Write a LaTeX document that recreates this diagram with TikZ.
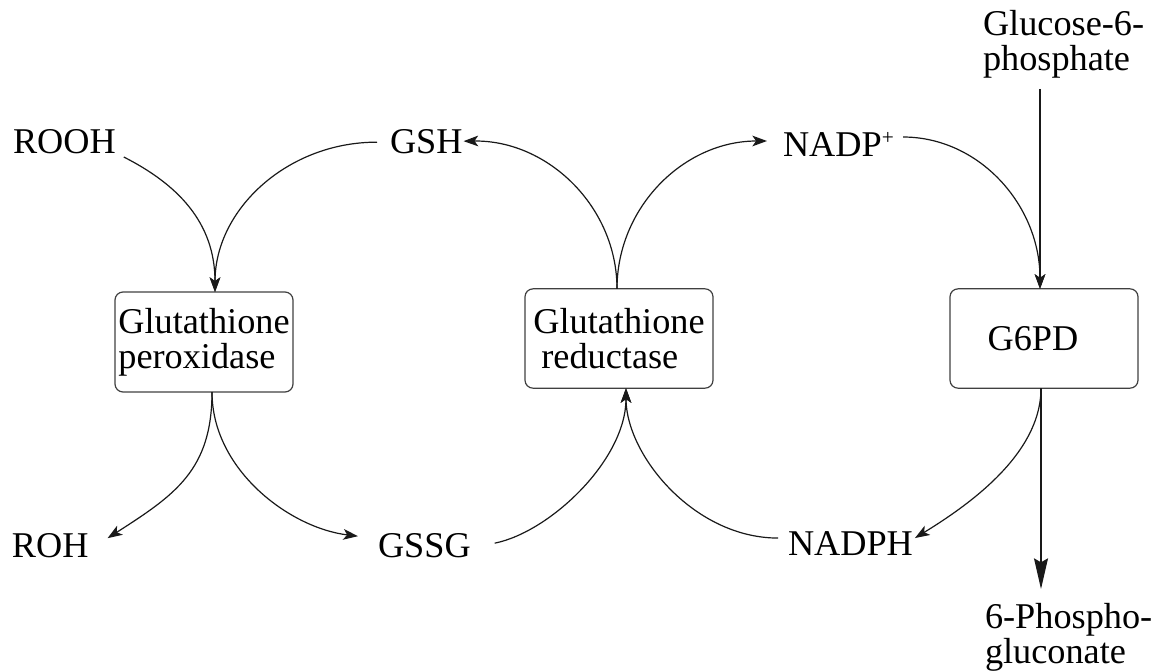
\documentclass[tikz,border=0pt]{standalone}
\usepackage{fontspec}
\setmainfont{Liberation Serif}
\usetikzlibrary{arrows.meta}
\begin{document}
\begin{tikzpicture}[x=0.75pt,y=-0.75pt,
  every node/.style={font=\fontsize{27.2pt}{26.25pt}\selectfont},
  lbl/.style={inner sep=0pt, outer sep=0pt},
  enz/.style={draw=black!75, line width=0.9pt, rounded corners=6pt, inner sep=0pt, outer sep=0pt, minimum height=74.5pt, minimum width=141pt},
  conn/.style={line width=0.9pt, draw=black!90, -{Stealth[length=11pt,width=8pt,inset=2.8pt]}},
  bigarr/.style={line width=0.9pt, draw=black!90, -{Stealth[length=23pt,width=10.5pt,inset=3pt]}}]
\useasboundingbox (0,0) rectangle (1157,671);

% substrate / product labels
\node[lbl, anchor=base west] (rooh) at (13,153) {ROOH};
\node[lbl, anchor=base west] (gsh) at (390,153) {GSH};
\node[lbl, anchor=base west] (nadp) at (783,156) {NADP{\fontsize{16pt}{16pt}\selectfont\raisebox{8.5pt}{+}}};
\node[lbl, anchor=north west, align=left] (glc) at (983,10) {Glucose-6-\\phosphate};
\node[lbl, anchor=base west] (roh) at (12,557) {ROH};
\node[lbl, anchor=base west] (gssg) at (378,557) {GSSG};
\node[lbl, anchor=base west] (nadph) at (788,555) {NADPH};
\node[lbl, anchor=north west, align=left] (pg) at (985,603) {6-Phospho-\\gluconate};

% enzymes
\node[enz, minimum width=133.5pt, minimum height=75pt, align=left] (gpx) at (204,342) {Glutathione\\peroxidase};
\node[enz, align=left] (gr) at (619,338.5) {Glutathione\\\hspace*{6pt}reductase};
\node[enz] (g6pd) at (1044,338.5) {\hspace*{-16.5pt}G6PD};

% helper coordinates
\coordinate (gpxin) at ([shift={(11,0)}]gpx.north);
\coordinate (gpxout) at ([shift={(8,0)}]gpx.south);
\coordinate (grout) at ([shift={(-2,0)}]gr.north);
\coordinate (grin) at ([shift={(7,0)}]gr.south);
\coordinate (g6in) at ([shift={(-4,0)}]g6pd.north);
\coordinate (g6out) at ([shift={(-3,0)}]g6pd.south);
\path (g6in |- glc.south) ++(0,11) coordinate (glcout);
\path (g6out |- pg.north) ++(0,-14) coordinate (pgin);

% glutathione peroxidase
\draw[conn] ([shift={(8,4)}]rooh.base east) .. controls (177,184) and (215,222) .. (gpxin);
\draw[conn] ([shift={(-13,1)}]gsh.west) .. controls (288,142) and (215,209) .. (gpxin);
\draw[conn] (gpxout) .. controls (212,470) and (175,495) .. ([shift={(19,-7)}]roh.east);
\draw[conn] (gpxout) .. controls (212,470) and (290,528) .. ([shift={(-20,-9)}]gssg.west);

% glutathione reductase
\draw[conn] ([shift={(24,-2)}]gssg.east) .. controls (550,532) and (626,460) .. (grin);
\draw[conn] ([shift={(-10,-5)}]nadph.west) .. controls (694,538) and (626,455) .. (grin);
\draw[conn] (grout) .. controls (617,207) and (548,140) .. ([shift={(1,0)}]gsh.east);
\draw[conn] (grout) .. controls (617,207) and (684,141) .. ([shift={(-16,-15)}]nadp.base west);

% G6PD
\draw[conn] ([shift={(120,-19)}]nadp.base west) .. controls (979,137) and (1040,205) .. (g6in);
\draw[conn] (glcout) -- (g6in);
\draw[conn] (g6out) .. controls (1041,455) and (967,506) .. ([shift={(2,-5)}]nadph.east);
\draw[bigarr] (g6out) -- (pgin);
\end{tikzpicture}
\end{document}
